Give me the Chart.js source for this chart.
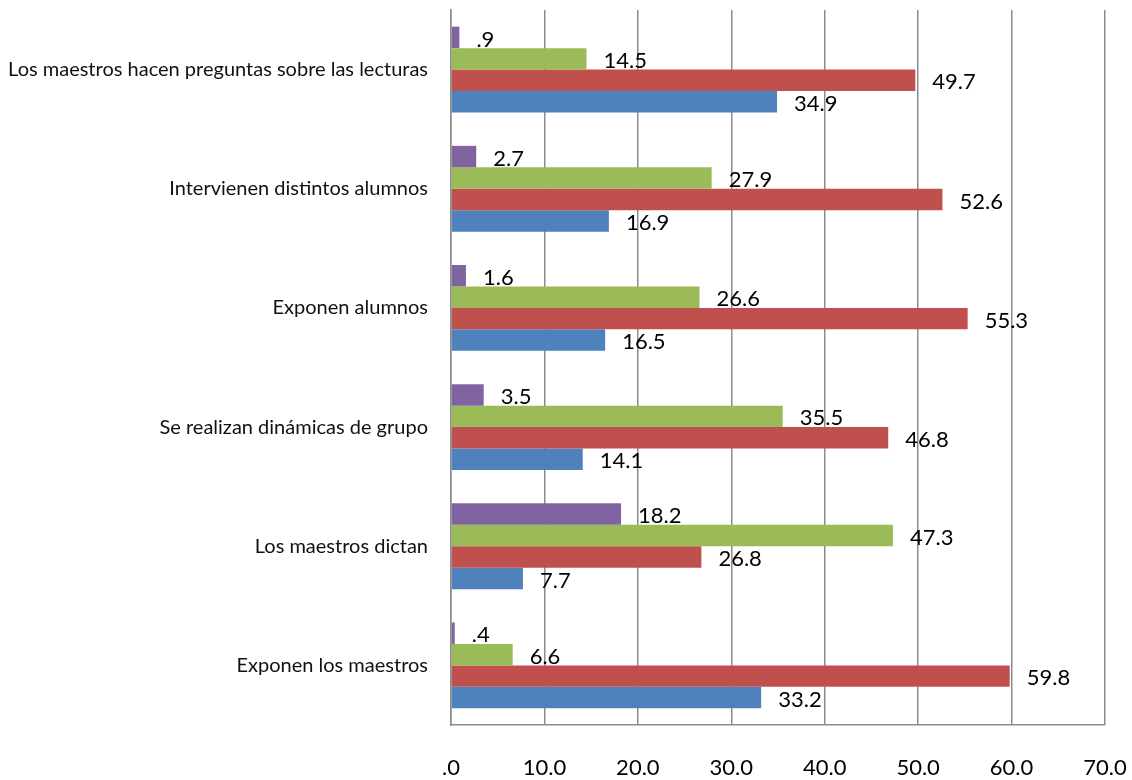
<!DOCTYPE html>
<html>
<head>
<meta charset="utf-8">
<script src="https://cdn.jsdelivr.net/npm/chart.js@4/dist/chart.umd.min.js"></script>
<style>
  html, body { margin: 0; padding: 0; background: #fff; }
  #wrap { width: 1132px; height: 780px; }
</style>
</head>
<body>
<div id="wrap"><canvas id="chart" width="1132" height="780"></canvas></div>
<script>
// Categories, top to bottom
const categories = [
    "Los maestros hacen preguntas sobre las lecturas",
    "Intervienen distintos alumnos",
    "Exponen alumnos",
    "Se realizan dinámicas de grupo",
    "Los maestros dictan",
    "Exponen los maestros"
]
// Series values (one per category), drawn top to bottom inside each group
const purpleValues = [0.9, 2.7, 1.6, 3.5, 18.2, 0.4]
const greenValues = [14.5, 27.9, 26.6, 35.5, 47.3, 6.6]
const redValues = [49.7, 52.6, 55.3, 46.8, 26.8, 59.8]
const blueValues = [34.9, 16.9, 16.5, 14.1, 7.7, 33.2]
// Axis range
const xMin = 0
const xMax = 70
const xStep = 10

// ".9" instead of "0.9", like the original
const fmt = v => v.toFixed(1).replace(/^0/, "")

// Draws the value next to each bar end
const valueLabels = {
    id: "valueLabels",
    afterDatasetsDraw(chart) {
        const ctx = chart.ctx
        ctx.save()
        ctx.font = "22px Lato"
        ctx.fillStyle = "#000"
        ctx.textAlign = "left"
        ctx.textBaseline = "middle"
        chart.data.datasets.forEach((ds, i) => {
            chart.getDatasetMeta(i).data.forEach((bar, j) => {
                ctx.fillText(fmt(ds.data[j]), bar.x + 17, bar.y + 2)
            })
        })
        ctx.restore()
    }
}

const ctx = document.getElementById("chart").getContext("2d")
new Chart(ctx, {
    type: "bar",
    data: {
        labels: categories,
        datasets: [
            { data: purpleValues, backgroundColor: "#8064A2" },
            { data: greenValues, backgroundColor: "#9BBB59" },
            { data: redValues, backgroundColor: "#C0504D" },
            { data: blueValues, backgroundColor: "#4F81BD" }
        ]
    },
    options: {
        indexAxis: "y",
        responsive: false,
        animation: false,
        layout: { padding: { left: 0, right: 0, top: 10, bottom: 0 } },
        datasets: {
            bar: { categoryPercentage: 0.72, barPercentage: 1.0 }
        },
        scales: {
            x: {
                min: xMin,
                max: xMax,
                ticks: {
                    stepSize: xStep,
                    padding: 30,
                    color: "#000",
                    font: { family: "Lato", size: 22 },
                    callback: v => fmt(v)
                },
                grid: { color: "#8c8c8c", lineWidth: 1.5, drawTicks: false },
                border: { color: "#8c8c8c", width: 1.5 },
                afterFit: s => {
                    s.height = 55
                    s.paddingLeft = 0
                    s.paddingRight = 27
                }
            },
            y: {
                ticks: {
                    padding: 23,
                    color: "#111",
                    font: { family: "Lato", size: 20 }
                },
                grid: { display: false, drawTicks: false },
                border: { color: "#8c8c8c", width: 1.5 },
                afterFit: s => {
                    s.width = 451
                    s.paddingTop = 0
                    s.paddingBottom = 0
                }
            }
        },
        plugins: {
            legend: { display: false },
            tooltip: { enabled: false }
        }
    },
    plugins: [valueLabels]
})
</script>
</body>
</html>
